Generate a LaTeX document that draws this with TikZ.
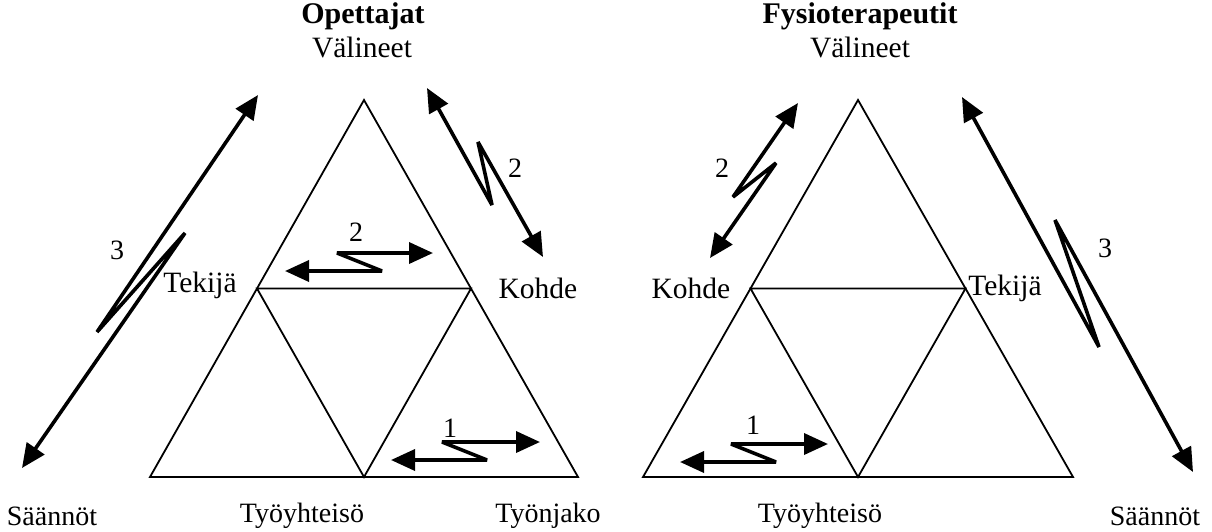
\documentclass[tikz,border=0pt]{standalone}
\usepackage{fontspec}
\setmainfont{Liberation Serif}
\usetikzlibrary{arrows.meta}
\begin{document}
\begin{tikzpicture}[x=1pt,y=-1pt,
  tri/.style={line width=1.8pt, line join=miter},
  zz/.style={line width=3.6pt, line join=miter, miter limit=4,
    {Triangle[length=24pt,width=21pt]}-{Triangle[length=24pt,width=21pt]}},
  lbl/.style={font=\fontsize{28}{30}\selectfont, inner sep=0pt},
  mid/.style={font=\fontsize{29.5}{31}\selectfont, inner sep=0pt},
  ttl/.style={font=\fontsize{30}{32}\selectfont\bfseries, inner sep=0pt},
  num/.style={font=\fontsize{28}{30}\selectfont, inner sep=0pt}]
\useasboundingbox (0,0) rectangle (1212,531);

% --- left triangle (Opettajat)
\coordinate (LA) at (364,100);
\coordinate (LB) at (150,477);
\coordinate (LC) at (578,477);
\coordinate (LM1) at (257,288.5);
\coordinate (LM2) at (471,288.5);
\coordinate (LM3) at (364,477);
\draw[tri] (LA) -- (LB) -- (LC) -- cycle;
\draw[tri] (LM1) -- (LM2) -- (LM3) -- cycle;

% --- right triangle (Fysioterapeutit)
\coordinate (RA) at (858,100);
\coordinate (RB) at (643,477);
\coordinate (RC) at (1073,477);
\coordinate (RM1) at (750.5,288.5);
\coordinate (RM2) at (965.5,288.5);
\coordinate (RM3) at (858,477);
\draw[tri] (RA) -- (RB) -- (RC) -- cycle;
\draw[tri] (RM1) -- (RM2) -- (RM3) -- cycle;

% --- labels, left
\node[ttl] (t1) at (363,16) {Opettajat};
\node[mid] (v1) at (362,47) {Välineet};
\node[mid] (tek1) at (200,285) {Tekijä};
\node[mid] (koh1) at (538,288) {Kohde};
\node[lbl] (saa1) at (52,516) {Säännöt};
\node[lbl] (tyo1) at (302,516) {Työyhteisö};
\node[lbl] (jak) at (548,516) {Työnjako};

% --- labels, right
\node[ttl] (t2) at (860,16) {Fysioterapeutit};
\node[mid] (v2) at (860,47) {Välineet};
\node[mid] (koh2) at (691,288) {Kohde};
\node[mid] (tek2) at (1005,288) {Tekijä};
\node[lbl] (tyo2) at (820,516) {Työyhteisö};
\node[lbl] (saa2) at (1155,516) {Säännöt};

% --- tension arrows
\coordinate (a1) at (258,95);  \coordinate (a2) at (97,332);
\coordinate (a3) at (185,233); \coordinate (a4) at (22,468);
\draw[zz] (a1) -- (a2) -- (a3) -- (a4);
\node[num] (n3l) at (117,250) {3};

\coordinate (b1) at (427,88);  \coordinate (b2) at (492,205);
\coordinate (b3) at (478,142); \coordinate (b4) at (543,257);
\draw[zz] (b1) -- (b2) -- (b3) -- (b4);
\node[num] (n2a) at (515,168) {2};

\coordinate (c1) at (285,271); \coordinate (c2) at (382,271);
\coordinate (c3) at (337,253); \coordinate (c4) at (433,253);
\draw[zz] (c1) -- (c2) -- (c3) -- (c4);
\node[num] (n2b) at (356,232) {2};

\coordinate (d1) at (391,460); \coordinate (d2) at (487,460);
\coordinate (d3) at (442,442); \coordinate (d4) at (540,442);
\draw[zz] (d1) -- (d2) -- (d3) -- (d4);
\node[num] (n1a) at (450,428) {1};

\coordinate (e1) at (798,103); \coordinate (e2) at (733,197);
\coordinate (e3) at (776,163); \coordinate (e4) at (710,258);
\draw[zz] (e1) -- (e2) -- (e3) -- (e4);
\node[num] (n2c) at (722,168) {2};

\coordinate (f1) at (962,97);   \coordinate (f2) at (1099,347);
\coordinate (f3) at (1055,220); \coordinate (f4) at (1193,472);
\draw[zz] (f1) -- (f2) -- (f3) -- (f4);
\node[num] (n3r) at (1105,248) {3};

\coordinate (g1) at (680,462); \coordinate (g2) at (776,462);
\coordinate (g3) at (731,444); \coordinate (g4) at (828,444);
\draw[zz] (g1) -- (g2) -- (g3) -- (g4);
\node[num] (n1b) at (753,425) {1};
\end{tikzpicture}
\end{document}
